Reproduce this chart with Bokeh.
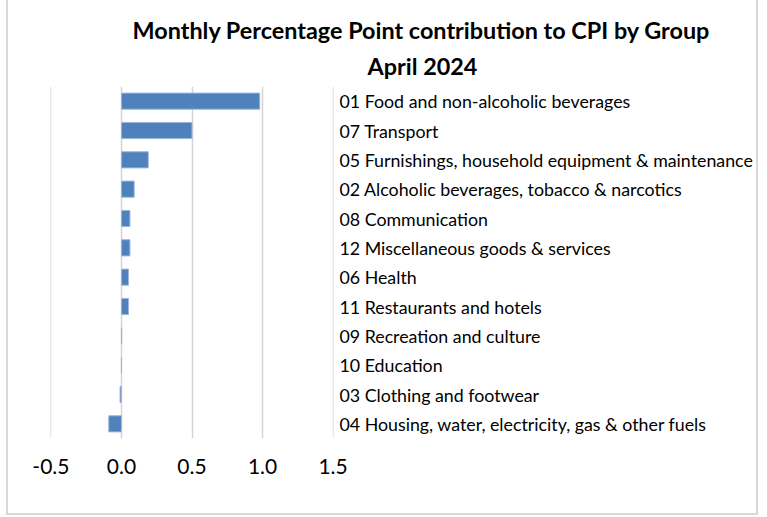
from bokeh.plotting import figure
from bokeh.models import FactorRange, Range1d, FixedTicker, NumeralTickFormatter, Title, CategoricalAxis
from bokeh.embed import file_html
from bokeh.resources import INLINE

categories = [
    "01 Food and non-alcoholic beverages",
    "07 Transport",
    "05 Furnishings, household equipment & maintenance",
    "02 Alcoholic beverages, tobacco & narcotics",
    "08 Communication",
    "12 Miscellaneous goods & services",
    "06 Health",
    "11 Restaurants and hotels",
    "09 Recreation and culture",
    "10 Education",
    "03 Clothing and footwear",
    "04 Housing, water, electricity, gas & other fuels",
]
values = [0.98, 0.50, 0.19, 0.09, 0.06, 0.06, 0.05, 0.05, 0.002, 0.0, -0.01, -0.09]
x_ticks = [-0.5, 0.0, 0.5, 1.0, 1.5]
title_lines = ["Monthly Percentage Point contribution to CPI by Group", "April 2024"]

factors = list(reversed(categories))

p = figure(
    width=752, height=515, title=None,
    y_range=FactorRange(factors=factors, range_padding=0),
    x_range=Range1d(-0.503, 1.503),
    output_backend="svg", toolbar_location=None,
    x_axis_location="below", y_axis_location=None,
    min_border_left=42, min_border_right=427, min_border_top=86, min_border_bottom=77,
)
p.styles = {
    "margin-left": "6px",
    "border-left": "2px solid #d9d9d9",
    "border-right": "2px solid #d9d9d9",
    "border-bottom": "2px solid #d9d9d9",
}
p.outline_line_color = None
p.background_fill_color = "white"
p.border_fill_color = "white"

p.hbar(y=categories, right=values, left=0, height=0.55,
       fill_color="#4f81bd", line_color="#9bb7dc", line_width=1)

yax = CategoricalAxis()
yax.axis_line_color = None
yax.major_tick_line_color = None
yax.minor_tick_line_color = None
yax.major_label_standoff = 0
yax.major_label_text_font = "Lato"
yax.major_label_text_font_size = "17.8px"
yax.major_label_text_color = "#000000"
p.add_layout(yax, "right")

xa = p.xaxis[0]
xa.ticker = FixedTicker(ticks=x_ticks)
xa.formatter = NumeralTickFormatter(format="0.0")
xa.axis_line_color = None
xa.major_tick_line_color = None
xa.minor_tick_line_color = None
xa.major_label_standoff = 14
xa.major_label_text_font = "Lato"
xa.major_label_text_font_size = "21px"
xa.major_label_text_color = "#000000"

p.xgrid.grid_line_color = "#d4d4d4"
p.xgrid.grid_line_width = 1.5
p.xgrid.ticker = FixedTicker(ticks=x_ticks)
p.ygrid.grid_line_color = None

t2 = Title(text=title_lines[1], align="left", offset=317, standoff=13,
           text_font="Lato", text_font_style="bold", text_font_size="23.4px", text_color="#000000")
t1 = Title(text=title_lines[0], align="left", offset=82, standoff=0,
           text_font="Lato", text_font_style="bold", text_font_size="23.4px", text_color="#000000")
p.add_layout(t2, "above")
p.add_layout(t1, "above")

open("out.html", "w").write(file_html(p, INLINE))
